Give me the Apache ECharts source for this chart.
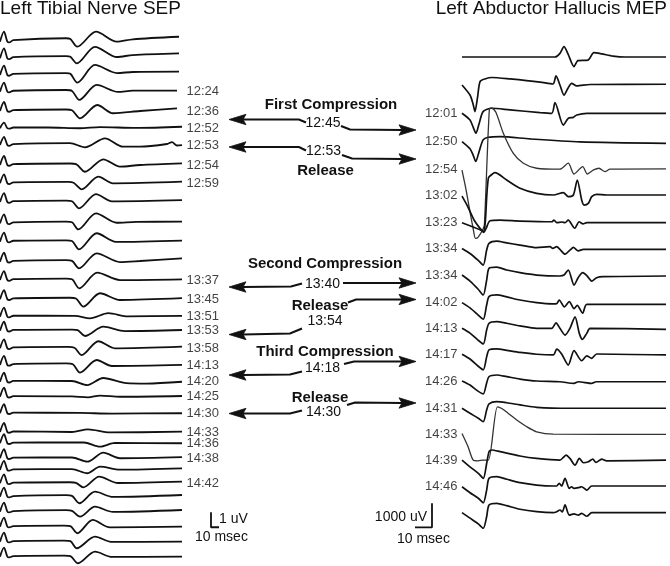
<!DOCTYPE html>
<html><head><meta charset="utf-8">
<script src="https://cdn.jsdelivr.net/npm/echarts@6/dist/echarts.min.js"></script>
<style>html,body{margin:0;padding:0;background:#fff}#c{width:670px;height:566px}</style>
</head><body><div id="c"></div>
<script>
const FONT = '"Liberation Sans", Arial, sans-serif';
const INK = '#111';

// ---------- Left Tibial Nerve SEP (time ms, amplitude uV) ----------
const sepOffsetsUv = [2.78,3.89,5.0,6.11,7.4,8.55,9.67,11.0,12.22,13.47,14.89,16.11,17.45,18.67,19.95,21.11,22.05,23.22,24.33,25.45,26.45,27.55,28.8,29.55,30.55,31.33,32.22,33.11,34.11,35.11,36.11,37.11];
const sepLabels = ['','','','12:24','12:36','12:52','12:53','12:54','12:59','','','','','13:37','13:45','13:51','13:53','13:58','14:13','14:20','14:25','14:30','14:33','14:36','14:38','','14:42','','','','',''];
const sepTraces = [
 [[0,0],[5,0.67],[9.2,0],[11.6,-0.05],[16.6,0.1],[82.5,0.23],[88,0.18],[96.6,-0.33],[120,0.67],[145.9,0],[166,0.16],[223.75,0.33]],
 [[0,0],[5,0.67],[9.2,0],[11.6,-0.05],[16.6,0.08],[82.5,0.15],[88,0.1],[95.9,-0.33],[118.75,0.77],[146.25,0.09],[166,0.22],[223.75,0.33]],
 [[0,0],[5,0.63],[9.2,0],[11.6,-0.05],[16.6,0.08],[82.5,0.13],[88,0.08],[96.6,-0.51],[118.75,0.67],[146.25,0.13],[166,0.2],[223.75,0.22]],
 [[0,0],[5,0.6],[9.2,0],[11.6,-0.05],[16.6,0.06],[82.5,0.11],[90,0.05],[99.1,-0.55],[120.9,0.45],[147.5,-0.02],[166,0.07],[221.25,0.07]],
 [[0,0],[5,0.6],[9.2,0],[11.6,-0.05],[16.6,0.06],[82.5,0.1],[90,0.05],[100,-0.49],[121.6,0.4],[141.25,-0.15],[175,0],[221.25,0.18]],
 [[0,0],[5,0.37],[9.2,0],[11.6,-0.03],[16.6,0.05],[60,0.05],[100,0],[125,0.08],[170,0.02],[227.5,0.1]],
 [[0,0],[5,0.55],[9.2,0],[11.6,-0.05],[16.6,0.06],[87.5,0.13],[106.25,-0.15],[131.25,0.45],[153.75,-0.11],[175,-0.11],[208.75,0.07],[215,0.2],[221.25,-0.03],[227.5,0]],
 [[0,0],[5,0.6],[9.2,0],[11.6,-0.05],[16.6,0.06],[87.5,0.1],[95,0.06],[106.25,-0.45],[129.1,0.38],[150,-0.11],[175,0],[227.5,0.11]],
 [[0,0],[5,0.6],[9.2,0],[11.6,-0.05],[16.6,0.06],[85,0.09],[92,0.04],[102.1,-0.4],[122.9,0.44],[141.25,0],[227.5,0.11]],
 [[0,0],[5,0.6],[9.2,0],[11.6,-0.05],[16.6,0.06],[82.5,0.1],[90,0.05],[98.75,-0.42],[120,0.53],[140,0.05],[227.5,0.13]],
 [[0,0],[5,0.6],[9.2,0],[11.6,-0.05],[16.6,0.06],[82.5,0.12],[90,0.07],[97.9,-0.4],[120,0.67],[145.9,0.04],[170,0.1],[227.5,0.11]],
 [[0,0],[5,0.6],[9.2,0],[11.6,-0.05],[16.6,0.06],[82.5,0.09],[90,0.04],[98.75,-0.51],[120.9,0.56],[145,-0.02],[227.5,0.07]],
 [[0,0],[5,0.6],[9.2,0],[11.6,-0.05],[16.6,0.06],[82.5,0.11],[90,0.06],[98.75,-0.44],[120.9,0.56],[150,-0.02],[175,0.05],[227.5,0.23]],
 [[0,0],[5,0.6],[9.2,0],[11.6,-0.05],[16.6,0.06],[82.5,0.1],[90,0.05],[99.1,-0.55],[121.6,0.49],[150,0],[227.5,0.05]],
 [[0,0],[5,0.6],[9.2,0],[11.6,-0.05],[16.6,0.06],[87.5,0.1],[95,0.05],[104.1,-0.49],[125,0.4],[150,-0.05],[227.5,0.07]],
 [[0,0],[5,0.6],[9.2,0],[11.6,-0.05],[16.6,0.06],[93.75,0.05],[112.5,-0.11],[135.4,0.23],[160,0.02],[227.5,0.05]],
 [[0,0],[5,0.6],[9.2,0],[11.6,-0.05],[16.6,0.06],[90,0.08],[97,0.04],[106.25,-0.35],[129.1,0.27],[156.25,-0.02],[227.5,0.05]],
 [[0,0],[5,0.6],[9.2,0],[11.6,-0.05],[16.6,0.06],[85,0.09],[93,0.04],[102.1,-0.45],[122.9,0.47],[143.75,0],[227.5,0.11]],
 [[0,0],[5,0.6],[9.2,0],[11.6,-0.05],[16.6,0.06],[82.5,0.1],[91,0.05],[100,-0.51],[120.9,0.33],[140,-0.07],[227.5,0]],
 [[0,0],[5,0.6],[9.2,0],[11.6,-0.05],[16.6,0.06],[90,0.05],[109.1,-0.22],[129,0.25],[158,-0.09],[183,-0.12],[227.5,0]],
 [[0,0],[5,0.6],[9.2,0],[11.6,-0.05],[16.6,0.04],[90,0.02],[110,-0.04],[125,0.08],[150,0],[227.5,0.05]],
 [[0,0],[5,0.6],[9.2,0],[11.6,-0.05],[16.6,0.04],[100,0.02],[140,-0.02],[227.5,0]],
 [[0,0],[5,0.6],[9.2,0],[11.6,-0.05],[16.6,0.04],[90,0],[110,0.18],[137.5,-0.03],[227.5,0.02]],
 [[0,0],[5,0.6],[9.2,0],[11.6,-0.05],[16.6,0.04],[80,0.05],[105,0.05],[125,-0.23],[143.75,0.02],[227.5,0]],
 [[0,0],[5,0.6],[9.2,0],[11.6,-0.05],[16.6,0.04],[90,0.05],[109.1,-0.23],[129.1,0.37],[150,0],[227.5,0.07]],
 [[0,0],[5,0.6],[9.2,0],[11.6,-0.05],[16.6,0.04],[90,0.05],[109.1,-0.22],[125,0.22],[150,0.02],[227.5,0.11]],
 [[0,0],[5,0.6],[9.2,0],[11.6,-0.05],[16.6,0.04],[87.5,0.07],[95,0.03],[104.1,-0.27],[124.1,0.44],[147.5,0.02],[227.5,0.11]],
 [[0,0],[5,0.6],[9.2,0],[11.6,-0.05],[16.6,0.04],[82.5,0.1],[90,0.05],[99.1,-0.44],[118.75,0.33],[141.25,-0.02],[227.5,0.11]],
 [[0,0],[5,0.6],[9.2,0],[11.6,-0.05],[16.6,0.04],[82.5,0.1],[90,0.05],[100,-0.33],[118.75,0.33],[141.25,-0.02],[227.5,0.11]],
 [[0,0],[5,0.6],[9.2,0],[11.6,-0.05],[16.6,0.04],[80,0.07],[88,0.03],[96.6,-0.44],[115.9,0.45],[137.5,-0.05],[227.5,0]],
 [[0,0],[5,0.6],[9.2,0],[11.6,-0.05],[16.6,0.04],[80,0.07],[88,0.03],[95.9,-0.44],[118.75,0.33],[140,-0.02],[227.5,0]],
 [[0,0],[5,0.6],[9.2,0],[11.6,-0.05],[16.6,0.04],[80,0.07],[88,0.03],[97.5,-0.44],[118.75,0.33],[140,-0.02],[227.5,0]]
];
const sepLabelMs = 227.5;
const sepBarMs = 10, sepBarUv = 1, sepBarAt = [263.75, -35.15];

// ---------- Left Abductor Hallucis MEP (time ms, amplitude mV) ----------
const mepOffsetsMv = [2.375,3.54,4.72,5.9,7.04,8.125,9.28,10.35,11.46,12.61,13.68,14.76,15.875,17.01,18.1,19.17,20.28,21.36];
const mepLabels = ['','','12:01','12:50','12:54','13:02','13:23','13:34','13:34','14:02','14:13','14:17','14:26','14:31','14:33','14:39','14:46',''];
const mepTraces = [
 [[0,0],[54.7,0],[57.6,0.15],[60,0.43],[62.4,0.12],[65.9,-0.4],[68.2,-0.15],[74.1,-0.13],[77.6,0.18],[82.2,0.13],[88.8,0.04],[96,0],[120,0]],
 [[0,0],[4.7,-0.42],[6.5,-0.79],[7.6,-1.11],[9.1,-0.54],[10.6,0.14],[13.5,0.25],[17.6,0.31],[28.2,0.25],[45.9,0.12],[53.5,0.04],[55.3,0.375],[57.6,0],[60,-0.42],[62.4,-0.125],[64.5,0.07],[67.5,-0.04],[75.3,0.02],[120,0.03]],
 [[0,0],[4.7,-0.28],[6.5,-0.57],[8.2,-0.83],[10,-0.45],[12.4,0.07],[17.5,0.21],[28.2,0.14],[45.9,0.03],[52.8,0],[54.7,0.44],[59.6,-0.49],[62.5,-0.21],[65.5,-0.17],[67.5,-0.07],[73.4,0],[120,0]],
 [[0,0],[4.7,-0.3],[6.5,-0.55],[8.1,-0.83],[10,-0.43],[12.4,0.07],[15.3,0.18],[22.4,0.21],[40,0.11],[69.4,-0.01],[120,-0.07]],
 [[0,-0.05],[2.4,-0.875],[4.7,-1.79],[6.5,-2.46],[7.9,-2.89],[9.4,-2.85],[12.4,-2.5],[13.2,-2.3],[16.1,2.5],[17.5,2.54],[20,2.35],[24.3,1.49],[30.2,0.65],[36.1,0.24],[43.9,0.03],[57.6,-0.01],[62.5,0.24],[65.9,-0.21],[71,0.1],[73.7,-0.21],[77.4,-0.04],[80.6,0.03],[84.1,-0.11],[87.1,-0.01],[120,0]],
 [[0,-0.05],[3.5,-0.5],[7.1,-1.04],[10.6,-1.39],[12.5,-1.53],[13.6,-1.2],[15.5,0.7],[18.4,0.9],[19.4,0.93],[26.3,0.625],[34.1,0.28],[43.9,0.07],[53.7,0],[59.6,0.1],[62.5,-0.07],[65.5,0],[67.8,0.625],[70.4,-0.21],[71.8,-0.42],[74.3,-0.35],[76.3,-0.07],[79.2,0.03],[85,0],[120,0]],
 [[0,0],[11.8,-0.33],[12.9,-0.4],[14.1,-0.25],[16.5,0.08],[22.4,0.11],[34.1,0.07],[52.8,0.04],[54.1,0.11],[55.7,0],[58.8,0.03],[60.6,0],[62.5,0.11],[66.3,-0.23],[68.9,0.04],[71.2,-0.05],[73.4,0],[120,0]],
 [[0,0],[4.7,-0.21],[9.4,-0.49],[12.5,-0.7],[14.5,-0.07],[15.9,0.21],[20.4,0.3],[26.3,0.23],[34.1,0.14],[43.9,0.03],[51.8,0.07],[53.4,0],[55.7,0.07],[57.6,-0.04],[60.6,-0.24],[63.5,-0.07],[65.5,0.04],[68.4,-0.1],[71.4,-0.04],[120,-0.04]],
 [[0,0],[4.7,-0.25],[9.4,-0.58],[12.5,-0.83],[14.5,-0.21],[15.9,0.28],[20.4,0.33],[26.3,0.21],[34.1,0.1],[43.9,0],[57.6,-0.04],[60,0],[62.5,0.21],[65.9,-0.42],[68.4,-0.1],[71,0.1],[73.4,-0.02],[76.3,-0.25],[79.2,-0.11],[83.1,-0.07],[120,-0.04]],
 [[0,0],[4.7,-0.22],[9.4,-0.51],[12.5,-0.69],[14.5,-0.1],[15.9,0.25],[20.4,0.32],[26.3,0.24],[34.1,0.11],[43.9,0],[53.5,-0.05],[55.7,-0.04],[57.2,0.11],[60.2,-0.18],[63.1,0.04],[65.9,-0.25],[67.8,-0.11],[71,-0.44],[73.4,-0.07],[120,-0.07]],
 [[0,0],[4.7,-0.2],[9.4,-0.49],[12.5,-0.65],[14.5,-0.07],[15.9,0.21],[20.4,0.275],[26.3,0.21],[34.1,0.1],[43.9,0],[52.8,0],[55.3,0.23],[57.6,0],[60.6,-0.28],[63.5,0],[66.5,0.48],[69,-0.21],[70.8,-0.46],[73.4,-0.21],[75.3,0],[120,-0.04]],
 [[0,0],[4.7,-0.2],[9.4,-0.49],[12.5,-0.65],[14.5,-0.11],[15.9,0.18],[20.4,0.22],[26.3,0.16],[34.1,0.075],[43.9,0],[53.7,-0.03],[55.7,0.21],[58.6,0.01],[62.5,-0.45],[65.9,0.15],[70.4,-0.27],[73.4,-0.07],[76.3,-0.17],[79.2,0.01],[120,-0.03]],
 [[0,0],[4.7,-0.17],[9.4,-0.42],[12.5,-0.54],[14.5,-0.08],[15.9,0.18],[20.4,0.25],[26.3,0.18],[34.1,0.08],[43.9,0],[57.6,-0.03],[65.9,-0.1],[68.4,-0.03],[76.3,-0.1],[79,-0.03],[120,-0.03]],
 [[0,0],[4.7,-0.21],[9.6,-0.42],[12.5,-0.56],[14.5,-0.07],[15.9,0.18],[20.4,0.275],[26.3,0.23],[34.1,0.14],[43.9,0.04],[63.5,0],[120,0]],
 [[0,0.04],[3.5,-0.5],[6.6,-1.07],[9.4,-1.1],[12.4,-1.07],[15.5,-1.07],[20.8,1.15],[23.4,1.08],[27.2,0.875],[32.2,0.6],[38.1,0.32],[43.9,0.11],[53.7,0.01],[120,0]],
 [[0,0],[4.7,-0.28],[9.6,-0.55],[12.5,-0.76],[14.5,-0.14],[15.9,0.35],[17.5,0.42],[22.4,0.35],[34.1,0.17],[43.9,0.07],[57.6,0],[59.6,0.11],[61.2,0.21],[63.5,0.07],[66.5,-0.21],[69,0.07],[71.4,-0.11],[74.3,-0.07],[76.9,0.04],[78.8,-0.1],[82.2,0.04],[85.1,-0.03],[120,0]],
 [[0,0],[4.7,-0.25],[9.6,-0.48],[12.5,-0.67],[14.5,-0.14],[15.9,0.35],[20.4,0.42],[26.3,0.31],[34.1,0.17],[43.9,0.07],[53.7,0.03],[55.7,0.03],[57.2,0.14],[58.6,0.03],[60.6,0.35],[63.1,-0.07],[64.5,0],[65.9,-0.07],[69,-0.03],[70.4,0],[73.4,-0.14],[76.3,0.03],[120,0.03]],
 [[0,0],[4.7,-0.23],[9.6,-0.47],[12.5,-0.65],[14.5,-0.17],[15.9,0.32],[20.4,0.39],[26.3,0.29],[34.1,0.14],[43.9,0.04],[53.7,0],[55.7,0.04],[57.6,0.11],[59,0.03],[60.6,0.32],[63.1,-0.1],[65.9,-0.05],[68.4,-0.1],[70.4,-0.03],[73.4,-0.15],[76.3,0],[120,0]]
];
const mepLabelMs = 0;
const mepBarMs = 10, mepBarMv = 1, mepBarAt = [-17.65, -21.97];

// ---------- annotations ----------
const notes = [
 {t:'First Compression', x:331, y:105, b:true},
 {t:'12:45', x:323, y:123},
 {t:'12:53', x:323.5, y:151},
 {t:'Release', x:325.5, y:171, b:true},
 {t:'Second Compression', x:325, y:264, b:true},
 {t:'13:40', x:322.5, y:284},
 {t:'Release', x:320, y:306, b:true},
 {t:'13:54', x:325, y:321},
 {t:'Third Compression', x:325, y:351.5, b:true},
 {t:'14:18', x:322.5, y:368.5},
 {t:'Release', x:320, y:397.5, b:true},
 {t:'14:30', x:323.5, y:412.5}
];
const arrows = [
 {tip:[229,119.5], pts:[[306,122.5],[299,119.5]]},
 {tip:[416,130], pts:[[341,126],[350,129.5]]},
 {tip:[229,147], pts:[[306,150.5],[299,147]]},
 {tip:[416,159], pts:[[342,155],[352,158.5]]},
 {tip:[229,287], pts:[[302,283.5],[291,286.5]]},
 {tip:[416,283], pts:[[343,283]]},
 {tip:[416,299.5], pts:[[348,302.5],[356,299.5]]},
 {tip:[229,334.5], pts:[[302,328.5],[290,333.5]]},
 {tip:[416,361.5], pts:[[344,364],[354,361.5]]},
 {tip:[229,375], pts:[[302,371.5],[290,374.5]]},
 {tip:[416,403], pts:[[347,405],[355,402.5]]},
 {tip:[229,413.5], pts:[[302,410.5],[290,413.5]]}
];

const chart = echarts.init(document.getElementById('c'), null, {renderer:'canvas'});
const series = [];
sepTraces.forEach((tr,i)=>{
  series.push({type:'line', xAxisIndex:0, yAxisIndex:0, symbol:'none', showSymbol:false, smooth:0.3,
    lineStyle:{color:INK, width:1.8}, silent:true, animation:false,
    data: tr.map(p=>[p[0], p[1]-sepOffsetsUv[i]])});
});
series.push({type:'scatter', xAxisIndex:0, yAxisIndex:0, symbolSize:1, itemStyle:{color:'transparent'}, silent:true,
  label:{show:true, position:'right', distance:4, formatter:'{b}', fontSize:13, fontFamily:FONT, color:INK},
  data: sepLabels.map((l,i)=> l ? {name:l, value:[sepLabelMs, -sepOffsetsUv[i]]} : null).filter(Boolean)});
series.push({type:'line', xAxisIndex:0, yAxisIndex:0, symbol:'none', silent:true, lineStyle:{color:INK, width:1.8},
  data:[[sepBarAt[0], sepBarAt[1]+sepBarUv],[sepBarAt[0], sepBarAt[1]],[sepBarAt[0]+sepBarMs, sepBarAt[1]]]});

mepTraces.forEach((tr,i)=>{
  const big = (i===4 || i===14);
  series.push({type:'line', xAxisIndex:1, yAxisIndex:1, symbol:'none', showSymbol:false, smooth:0.25,
    lineStyle:{color: big ? '#333' : INK, width: big ? 1.3 : 1.7}, silent:true, animation:false,
    data: tr.map(p=>[p[0], p[1]-mepOffsetsMv[i]])});
});
series.push({type:'scatter', xAxisIndex:1, yAxisIndex:1, symbolSize:1, itemStyle:{color:'transparent'}, silent:true,
  label:{show:true, position:'left', distance:4, formatter:'{b}', fontSize:13, fontFamily:FONT, color:INK},
  data: mepLabels.map((l,i)=> l ? {name:l, value:[mepLabelMs, -mepOffsetsMv[i]]} : null).filter(Boolean)});
series.push({type:'line', xAxisIndex:1, yAxisIndex:1, symbol:'none', silent:true, lineStyle:{color:INK, width:1.8},
  data:[[mepBarAt[0]-mepBarMs, mepBarAt[1]],[mepBarAt[0], mepBarAt[1]],[mepBarAt[0], mepBarAt[1]+mepBarMv]]});

const g = [];
g.push({type:'text', x:0, y:9, style:{text:'Left Tibial Nerve SEP', font:'19px '+FONT, fill:INK, align:'left', verticalAlign:'middle'}});
g.push({type:'text', x:667, y:9, style:{text:'Left Abductor Hallucis MEP', font:'19px '+FONT, fill:INK, align:'right', verticalAlign:'middle'}});
notes.forEach(n=>{
  g.push({type:'text', x:n.x, y:n.y, silent:true, style:{text:n.t, font:(n.b?'bold 15px ':'14px ')+FONT, fill:INK, align:'center', verticalAlign:'middle'}});
});
arrows.forEach(a=>{
  const last = a.pts[a.pts.length-1];
  const d = a.tip[0] > last[0] ? 1 : -1;
  const tx = a.tip[0], ty = a.tip[1];
  const pts = a.pts.concat([[tx - d*14, ty]]);
  g.push({type:'polyline', silent:true, shape:{points:pts}, style:{stroke:INK, lineWidth:2.2, fill:null}});
  g.push({type:'polygon', silent:true, shape:{points:[[tx,ty],[tx-d*17,ty-5.2],[tx-d*14,ty],[tx-d*17,ty+5.2]]}, style:{fill:INK, stroke:INK, lineWidth:0.8, lineJoin:'miter'}});
});
g.push({type:'text', x:219, y:519.5, style:{text:'1 uV', font:'14px '+FONT, fill:INK, align:'left', verticalAlign:'middle'}});
g.push({type:'text', x:195, y:537.5, style:{text:'10 msec', font:'14px '+FONT, fill:INK, align:'left', verticalAlign:'middle'}});
g.push({type:'text', x:427, y:517, style:{text:'1000 uV', font:'14px '+FONT, fill:INK, align:'right', verticalAlign:'middle'}});
g.push({type:'text', x:397, y:539, style:{text:'10 msec', font:'14px '+FONT, fill:INK, align:'left', verticalAlign:'middle'}});

chart.setOption({
  animation:false,
  backgroundColor:'#fff',
  grid:[{left:0, top:0, width:670, height:566}, {left:360, top:0, width:310, height:566}],
  xAxis:[{type:'value', gridIndex:0, min:0, max:837.5, show:false},
         {type:'value', gridIndex:1, min:-60, max:122.35, show:false}],
  yAxis:[{type:'value', gridIndex:0, min:-37.733, max:0, show:false},
         {type:'value', gridIndex:1, min:-23.583, max:0, show:false}],
  series: series,
  graphic:{elements:g}
});
</script>
</body></html>
